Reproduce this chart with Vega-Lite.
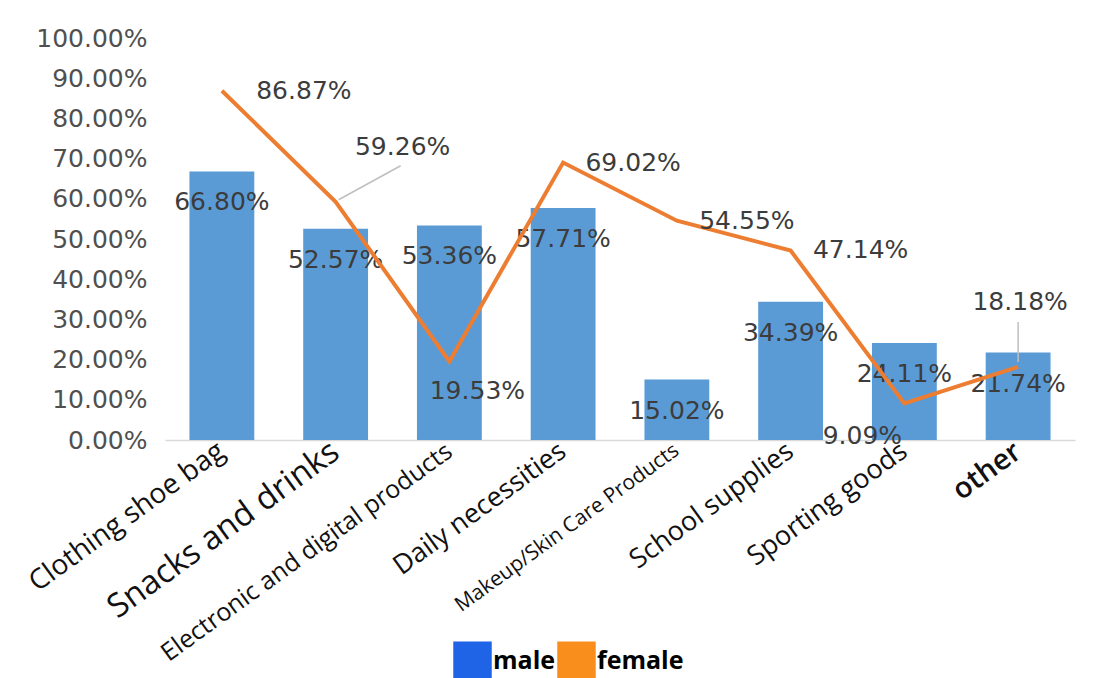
{
  "$schema": "https://vega.github.io/schema/vega-lite/v6.json",
  "width": 910,
  "height": 402,
  "autosize": "none",
  "padding": {"left": 165, "top": 38, "right": 22, "bottom": 238},
  "background": "white",
  "config": {"view": {"stroke": null}, "font": "Open Sans"},
  "data": {
    "values": [
      {"category": "Clothing shoe bag", "male": 0.668, "female": 0.8687},
      {"category": "Snacks and drinks", "male": 0.5257, "female": 0.5926},
      {"category": "Electronic and digital products", "male": 0.5336, "female": 0.1953},
      {"category": "Daily necessities", "male": 0.5771, "female": 0.6902},
      {"category": "Makeup/Skin Care Products", "male": 0.1502, "female": 0.5455},
      {"category": "School supplies", "male": 0.3439, "female": 0.4714},
      {"category": "Sporting goods", "male": 0.2411, "female": 0.0909},
      {"category": "other", "male": 0.2174, "female": 0.1818}
    ]
  },
  "encoding": {
    "x": {
      "field": "category",
      "type": "nominal",
      "sort": null,
      "title": null,
      "scale": {"paddingInner": 0.43, "paddingOuter": 0.215},
      "axis": {
        "labelAngle": -36,
        "labelAlign": "right",
        "labelBaseline": "middle",
        "labelFont": "Open Sans",
        "labelColor": "#111111",
        "labelFontSize": {"expr": "datum.value == 'Snacks and drinks' ? 33 : datum.value == 'other' ? 29 : datum.value == 'Makeup/Skin Care Products' ? 21 : datum.value == 'Clothing shoe bag' ? 28 : datum.value == 'Electronic and digital products' ? 25 : 27"},
        "labelFontWeight": {"expr": "datum.value == 'other' ? 600 : 'normal'"},
        "labelPadding": 8,
        "ticks": false,
        "domainColor": "#d9d9d9",
        "domainWidth": 1.5,
        "labelLimit": 500
      }
    }
  },
  "layer": [
    {
      "mark": {"type": "bar", "color": "#5b9bd5"},
      "encoding": {
        "y": {
          "field": "male",
          "type": "quantitative",
          "title": null,
          "scale": {"domain": [0, 1]},
          "axis": {
            "format": ".2%",
            "values": [0, 0.1, 0.2, 0.3, 0.4, 0.5, 0.6, 0.7, 0.8, 0.9, 1],
            "grid": false,
            "domain": false,
            "ticks": false,
            "labelFontSize": 25,
            "labelColor": "#505050",
            "labelPadding": 18,
            "labelFont": "DejaVu Sans"
          }
        }
      }
    },
    {
      "mark": {"type": "text", "dy": 31, "fontSize": 25, "font": "DejaVu Sans", "color": "#3c3c3c", "baseline": "middle", "align": "center"},
      "encoding": {
        "y": {"field": "male", "type": "quantitative"},
        "text": {"field": "male", "type": "quantitative", "format": ".2%"}
      }
    },
    {
      "transform": [{"filter": "datum.category == 'Snacks and drinks' || datum.category == 'other'"}],
      "mark": {
        "type": "rule",
        "color": "#bfbfbf",
        "strokeWidth": 1.5,
        "xOffset": {"expr": "datum.category == 'other' ? 0 : 3"},
        "x2Offset": {"expr": "datum.category == 'other' ? 0 : 65"},
        "yOffset": {"expr": "datum.category == 'other' ? -5 : -2"},
        "y2Offset": {"expr": "datum.category == 'other' ? -45 : -36"}
      },
      "encoding": {
        "x2": {"field": "category"},
        "y": {"field": "female", "type": "quantitative"},
        "y2": {"field": "female"}
      }
    },
    {
      "mark": {"type": "line", "color": "#ed7d31", "strokeWidth": 4},
      "encoding": {
        "y": {"field": "female", "type": "quantitative"}
      }
    },
    {
      "mark": {
        "type": "text",
        "dx": {"expr": "datum.category == 'Snacks and drinks' ? 67 : datum.category == 'Electronic and digital products' ? 28 : datum.category == 'Sporting goods' ? -42 : datum.category == 'other' ? 2 : datum.category == 'Clothing shoe bag' ? 82 : 70"},
        "dy": {"expr": "datum.category == 'Snacks and drinks' ? -55 : datum.category == 'Electronic and digital products' ? 30 : datum.category == 'Sporting goods' ? 33 : datum.category == 'other' ? -65 : 0"},
        "fontSize": 25,
        "font": "DejaVu Sans",
        "color": "#3c3c3c",
        "baseline": "middle",
        "align": "center"
      },
      "encoding": {
        "y": {"field": "female", "type": "quantitative"},
        "text": {"field": "female", "type": "quantitative", "format": ".2%"}
      }
    },
    {
      "mark": {"type": "point", "shape": "square", "filled": true, "size": 0},
      "encoding": {
        "y": {"field": "female", "type": "quantitative"},
        "color": {
          "datum": "male",
          "type": "nominal",
          "scale": {"domain": ["male", "female"], "range": ["#1f63e6", "#f98e1c"]},
          "legend": {
            "orient": "none",
            "legendX": 288,
            "legendY": 603,
            "direction": "horizontal",
            "title": null,
            "symbolType": "square",
            "symbolSize": 1480,
            "symbolOpacity": 1,
            "symbolStrokeWidth": 0,
            "labelFont": "Open Sans",
            "labelFontSize": 25,
            "labelFontWeight": "bold",
            "labelColor": "#000000",
            "labelOffset": 1,
            "columnPadding": 1
          }
        }
      }
    }
  ]
}
